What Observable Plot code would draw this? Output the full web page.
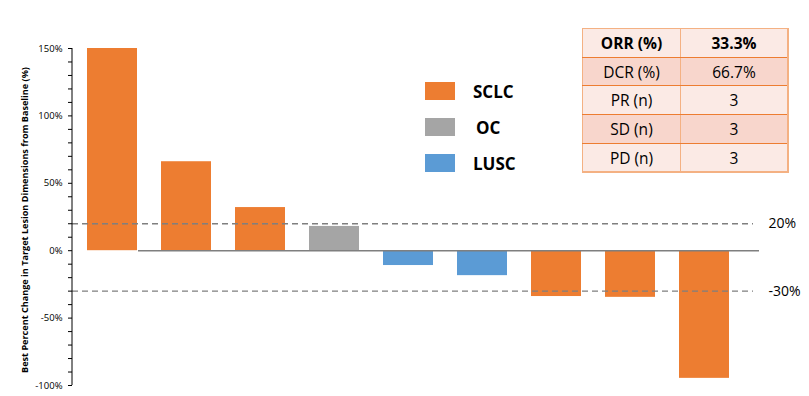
<!DOCTYPE html>
<html>
<head>
<meta charset="utf-8">
<script src="https://cdn.jsdelivr.net/npm/d3@7"></script>
<script src="https://cdn.jsdelivr.net/npm/@observablehq/plot@0.6"></script>
<style>
  html, body { margin: 0; padding: 0; background: #fff; }
  #wrap { position: relative; width: 809px; height: 396px; font-family: "Open Sans", "Liberation Sans", sans-serif; }
  #legend { position: absolute; left: 425px; top: 82px; }
  .lg { position: relative; height: 36px; }
  .lg .sw { position: absolute; left: 0; top: 0; width: 30px; height: 18px; }
  .lg .lb { position: absolute; left: 48px; top: -2px; font-weight: bold; font-size: 17px; color: #000; font-family: "Open Sans", sans-serif; }
  #tbl { position: absolute; left: 582px; top: 28px; border-collapse: collapse; font-family: "Open Sans", sans-serif; font-size: 15.5px; color: #000; }
  #tbl td { border: 1px solid #F4B183; border-top: 1px solid #ED7D31; border-bottom: 1px solid #ED7D31; height: 27.7px; padding: 0; text-align: center; }
  #tbl tr:first-child td { border-top: 1px solid #F4B183; }
  #tbl tr:last-child td { border-bottom: 2px solid #F4B183; }
  #tbl td:first-child { width: 97px; }
  #tbl td:last-child { width: 106px; border-right: 2px solid #F4B183; }
  #tbl td:first-child + td { border-left: 1px solid #ED7D31; }
</style>
</head>
<body>
<div id="wrap"></div>
<script>
// ---- data ----
const patients = ["1", "2", "3", "4", "5", "6", "7", "8", "9"];
const changes = [150, 66, 32, 18, -11, -18.5, -34, -34.6, -94.7];
const tumorTypes = ["SCLC", "SCLC", "SCLC", "OC", "LUSC", "LUSC", "SCLC", "SCLC", "SCLC"];
const legendTypes = ["SCLC", "OC", "LUSC"];
const typeColors = ["#ED7D31", "#A5A5A5", "#5B9BD5"];
const yTicks = [-100, -90, -80, -70, -60, -50, -40, -30, -20, -10, 0, 10, 20, 30, 40, 50, 60, 70, 80, 90, 100, 110, 120, 130, 140, 150];
const thresholds = [20, -30];
const thresholdLabels = ["20%", "-30%"];
const yTitle = "Best Percent Change in Target Lesion Dimensions from Baseline (%)";
const metricNames = ["ORR (%)", "DCR (%)", "PR (n)", "SD (n)", "PD (n)"];
const metricValues = ["33.3%", "66.7%", "3", "3", "3"];
const rowFills = ["#FBEAE5", "#F8D6CC", "#FBEAE5", "#F8D6CC", "#FBEAE5"];

const bars = patients.map((p, i) => ({ patient: p, change: changes[i], type: tumorTypes[i] }));
const thr = thresholds.map((t, i) => ({ y: t, label: thresholdLabels[i] }));

const chart = Plot.plot({
  width: 809,
  height: 396,
  marginLeft: 72,
  marginRight: 66,
  marginTop: 48,
  marginBottom: 11,
  style: { fontFamily: "'Open Sans', sans-serif", background: "white", overflow: "visible" },
  x: { domain: patients, paddingInner: 0.33, paddingOuter: 0.17, axis: null },
  y: { domain: [-100, 150], axis: null },
  color: { domain: legendTypes, range: typeColors },
  marks: [
    Plot.axisY({ ticks: yTicks, tickSize: 4, tickPadding: 6, tickFormat: d => (d % 50 === 0 ? d + "%" : ""), fontSize: 9.5, label: null, stroke: "#000", color: "#000" }),
    Plot.barY(bars, { x: "patient", y: "change", fill: "type" }),
    Plot.ruleY([0], { stroke: "#7F7F7F", strokeWidth: 1.5, insetLeft: 66, insetRight: -16 }),
    Plot.ruleY(thr, { y: "y", stroke: "#7F7F7F", strokeWidth: 1.3, strokeDasharray: "6,4", insetRight: -10 }),
    Plot.text(thr, { y: "y", text: "label", frameAnchor: "right", dx: 25, textAnchor: "start", fontSize: 14, fill: "#000" }),
    Plot.text([yTitle], { frameAnchor: "left", textAnchor: "middle", rotate: -90, dx: -47, dy: 3, fontSize: 9.1, fontWeight: "bold", fill: "#000" })
  ]
});

// y-axis domain line using the plot's own y scale
const ys = chart.scale("y");
d3.select(chart).append("line")
  .attr("x1", 72).attr("x2", 72)
  .attr("y1", ys.apply(150)).attr("y2", ys.apply(-100))
  .attr("stroke", "#000").attr("stroke-width", 1);

const wrap = document.getElementById("wrap");
wrap.appendChild(chart);

// legend
const legend = document.createElement("div");
legend.id = "legend";
legendTypes.forEach((t, i) => {
  const row = document.createElement("div");
  row.className = "lg";
  row.innerHTML = `<div class="sw" style="background:${typeColors[i]}"></div><div class="lb" style="left:${t === "OC" ? 51 : 48}px">${t}</div>`;
  legend.appendChild(row);
});
wrap.appendChild(legend);

// summary table
const table = document.createElement("table");
table.id = "tbl";
metricNames.forEach((m, i) => {
  const tr = document.createElement("tr");
  tr.style.background = rowFills[i];
  const bold = i === 0 ? "font-weight:bold;" : "";
  tr.innerHTML = `<td style="${bold}">${m}</td><td style="${bold}">${metricValues[i]}</td>`;
  table.appendChild(tr);
});
wrap.appendChild(table);
</script>
</body>
</html>
